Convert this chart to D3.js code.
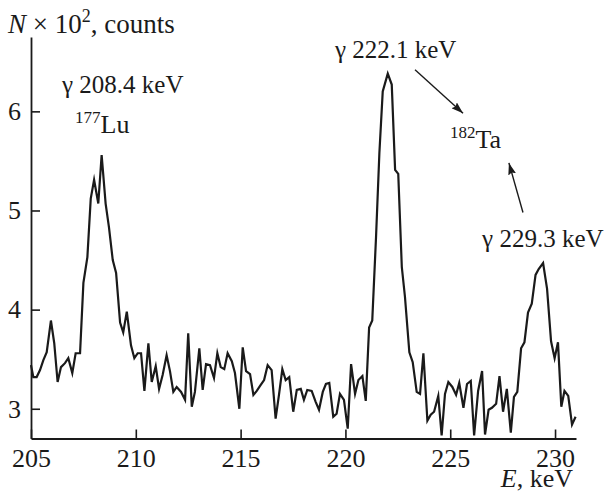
<!DOCTYPE html>
<html>
<head>
<meta charset="utf-8">
<script src="https://cdn.jsdelivr.net/npm/d3@7"></script>
<style>
    body { margin: 0; background: #fff; }
    svg text { font-family: "Liberation Serif", Tinos, "Times New Roman", Times, "Nimbus Roman", "DejaVu Serif", serif; fill: #1a1a1a; }
</style>
</head>
<body>
<div id="chart"></div>
<script>

// spectrum: energy (keV) and counts (x 10^2)
const energies = [
    205.00, 205.11, 205.27, 205.43, 205.59, 205.75, 205.95, 206.11, 206.27, 206.43,
    206.62, 206.78, 206.97, 207.13, 207.34, 207.50, 207.69, 207.85, 208.01, 208.21,
    208.37, 208.56, 208.72, 208.90, 209.06, 209.25, 209.40, 209.57, 209.77, 209.93,
    210.09, 210.25, 210.41, 210.60, 210.76, 210.95, 211.11, 211.28, 211.47, 211.63,
    211.79, 211.95, 212.16, 212.35, 212.50, 212.67, 212.82, 213.03, 213.19, 213.35,
    213.54, 213.73, 213.89, 214.05, 214.22, 214.38, 214.58, 214.73, 214.94, 215.10,
    215.26, 215.45, 215.61, 215.77, 215.96, 216.12, 216.29, 216.48, 216.67, 216.83,
    216.99, 217.15, 217.32, 217.51, 217.68, 217.87, 218.02, 218.18, 218.39, 218.58,
    218.74, 218.92, 219.07, 219.23, 219.42, 219.58, 219.74, 219.93, 220.11, 220.27,
    220.46, 220.62, 220.81, 220.97, 221.13, 221.28, 221.46, 221.62, 221.78, 222.02,
    222.21, 222.37, 222.52, 222.69, 222.84, 223.05, 223.21, 223.40, 223.56, 223.72,
    223.91, 224.07, 224.23, 224.43, 224.59, 224.75, 224.91, 225.10, 225.28, 225.43,
    225.63, 225.80, 225.98, 226.14, 226.33, 226.52, 226.66, 226.83, 226.99, 227.19,
    227.35, 227.52, 227.70, 227.89, 228.04, 228.20, 228.38, 228.54, 228.71, 228.89,
    229.07, 229.22, 229.43, 229.62, 229.81, 229.98, 230.14, 230.30, 230.45, 230.63,
    230.81, 230.98
];
const counts = [
    3.44, 3.32, 3.32, 3.39, 3.49, 3.57, 3.89, 3.66, 3.27, 3.42,
    3.46, 3.51, 3.36, 3.56, 3.56, 4.27, 4.53, 5.12, 5.31, 5.07,
    5.56, 5.07, 4.83, 4.50, 4.37, 3.87, 3.77, 3.98, 3.64, 3.51,
    3.56, 3.56, 3.18, 3.66, 3.27, 3.43, 3.20, 3.34, 3.54, 3.38,
    3.17, 3.22, 3.17, 3.09, 3.76, 3.02, 3.17, 3.61, 3.19, 3.45,
    3.44, 3.31, 3.56, 3.42, 3.40, 3.56, 3.48, 3.36, 3.00, 3.62,
    3.38, 3.35, 3.14, 3.18, 3.24, 3.29, 3.44, 3.39, 2.90, 3.14,
    3.40, 3.29, 3.32, 2.97, 3.19, 3.20, 3.09, 3.19, 3.18, 3.07,
    2.99, 3.17, 3.25, 3.26, 2.92, 2.95, 3.15, 3.09, 2.80, 3.45,
    3.15, 3.29, 3.33, 3.08, 3.82, 3.89, 4.73, 5.58, 6.20, 6.38,
    6.27, 5.41, 5.37, 4.43, 4.13, 3.57, 3.47, 3.17, 3.15, 3.56,
    2.88, 2.94, 2.97, 3.13, 2.73, 3.15, 3.27, 3.22, 3.14, 3.26,
    3.01, 3.25, 3.28, 2.73, 3.18, 3.38, 2.74, 2.99, 3.01, 3.05,
    3.33, 2.97, 3.20, 2.76, 3.12, 3.17, 3.61, 3.67, 3.97, 4.06,
    4.35, 4.41, 4.47, 4.21, 3.68, 3.51, 3.67, 3.02, 3.18, 3.13,
    2.84, 2.92
];

// tick values
const xTicks = [205, 210, 215, 220, 225, 230];
const yTicks = [3, 4, 5, 6];

// peak labels, anchored in data units (E, N)
const labelText = ["γ 208.4 keV", "γ 222.1 keV", "γ 229.3 keV"];
const labelE = [206.48, 219.50, 226.52];
const labelN = [6.185, 6.54, 4.63];

// isotope labels: mass number + symbol
const isoMass = ["177", "182"];
const isoSymbol = ["Lu", "Ta"];
const isoE = [207.10, 224.99];
const isoN = [5.78, 5.63];

// arrows from the 182Ta lines to the isotope label
const arrowFrom = [[223.32, 6.42], [228.47, 4.98]];
const arrowTo = [[225.61, 5.98], [227.80, 5.48]];


class SpectrumChart {

    constructor(){
        this.width = 606;
        this.height = 501;
        //Plot area bounds
        this.margin = {top: 37, bottom: 63, left: 31, right: 30};
        //tick labels / annotations / axis title sizes
        this.fontSize = 26;
        this.labelSize = 25;
        this.titleSize = 27;
        this.fontFamily = "'Liberation Serif', Tinos, 'Times New Roman', Times, 'Nimbus Roman', 'DejaVu Serif', serif";
    }

    create () {
        let chart = this;
        let innerRight = this.width - this.margin.right;
        let innerBottom = this.height - this.margin.bottom;

        let x = d3.scaleLinear()
            .domain([205, 231])
            .range([this.margin.left, innerRight]);

        let y = d3.scaleLinear()
            .domain([2.7, 6.75])
            .range([innerBottom + 0.5, this.margin.top]);

        let svg = d3.select("#chart").append("svg")
            .attr("width", this.width)
            .attr("height", this.height)
            .attr("font-family", this.fontFamily)
            .style("background", "#fff");

        //x axis, ticks pointing up into the plot
        let xAxis = svg.append("g")
            .attr("transform", "translate(0," + y(2.7) + ")")
            .call(d3.axisBottom(x).tickValues(xTicks).tickFormat(d3.format("d"))
                .tickSizeInner(-9).tickSizeOuter(0).tickPadding(10));

        //y axis, ticks pointing right
        let yAxis = svg.append("g")
            .attr("transform", "translate(" + x(205) + ",0)")
            .call(d3.axisLeft(y).tickValues(yTicks).tickFormat(d3.format("d"))
                .tickSizeInner(-9).tickSizeOuter(0).tickPadding(10));

        [xAxis, yAxis].forEach(function(g){
            g.attr("font-family", chart.fontFamily);
            g.select(".domain").attr("stroke", "#1a1a1a").attr("stroke-width", 1.8);
            g.selectAll(".tick line").attr("stroke", "#1a1a1a").attr("stroke-width", 1.6);
            g.selectAll(".tick text")
                .attr("fill", "#1a1a1a")
                .style("font-size", chart.fontSize + "px");
        });

        //spectrum line
        let line = d3.line()
            .x(function(d, i) { return x(energies[i]); })
            .y(function(d) { return y(d); });

        svg.append("path")
            .datum(counts)
            .attr("fill", "none")
            .attr("stroke", "#1a1a1a")
            .attr("stroke-width", 2.2)
            .attr("stroke-linejoin", "miter")
            .attr("stroke-miterlimit", 6)
            .attr("d", line);

        //axis titles
        let yTitle = svg.append("text")
            .attr("x", x(205) - 23)
            .attr("y", this.margin.top - 4)
            .style("font-size", this.titleSize + "px");
        yTitle.append("tspan").style("font-style", "italic").text("N");
        yTitle.append("tspan").text(" × 10");
        yTitle.append("tspan").attr("dy", -11).style("font-size", "18px").text("2");
        yTitle.append("tspan").attr("dy", 11).text(", counts");

        let xTitle = svg.append("text")
            .attr("x", innerRight - 3)
            .attr("y", innerBottom + 49)
            .attr("text-anchor", "end")
            .style("font-size", this.fontSize + "px");
        xTitle.append("tspan").style("font-style", "italic").text("E");
        xTitle.append("tspan").text(", keV");

        //peak labels
        svg.selectAll(".peakLabel")
            .data(labelText).enter()
            .append("text")
            .attr("class", "peakLabel")
            .attr("x", function(d, i) { return x(labelE[i]); })
            .attr("y", function(d, i) { return y(labelN[i]); })
            .style("font-size", this.labelSize + "px")
            .text(function(d) { return d; });

        //isotope labels with superscript mass number
        let iso = svg.selectAll(".isoLabel")
            .data(isoMass).enter()
            .append("text")
            .attr("class", "isoLabel")
            .attr("x", function(d, i) { return x(isoE[i]); })
            .attr("y", function(d, i) { return y(isoN[i]); })
            .style("font-size", this.labelSize + 1 + "px");
        iso.append("tspan").attr("dy", -10).style("font-size", "17px").text(function(d) { return d; });
        iso.append("tspan").attr("dy", 10).text(function(d, i) { return isoSymbol[i]; });

        //arrow heads
        svg.append("defs").append("marker")
            .attr("id", "head")
            .attr("markerUnits", "userSpaceOnUse")
            .attr("markerWidth", 12)
            .attr("markerHeight", 8)
            .attr("refX", 12)
            .attr("refY", 4)
            .attr("orient", "auto")
            .append("path")
            .attr("d", "M0,0 L12,4 L0,8 L2,4 Z")
            .attr("fill", "#1a1a1a");

        svg.selectAll(".arrow")
            .data(arrowFrom).enter()
            .append("line")
            .attr("class", "arrow")
            .attr("x1", function(d) { return x(d[0]); })
            .attr("y1", function(d) { return y(d[1]); })
            .attr("x2", function(d, i) { return x(arrowTo[i][0]); })
            .attr("y2", function(d, i) { return y(arrowTo[i][1]); })
            .attr("stroke", "#1a1a1a")
            .attr("stroke-width", 1.4)
            .attr("marker-end", "url(#head)");
    }
}

let chart = new SpectrumChart();
chart.create();

</script>
</body>
</html>
